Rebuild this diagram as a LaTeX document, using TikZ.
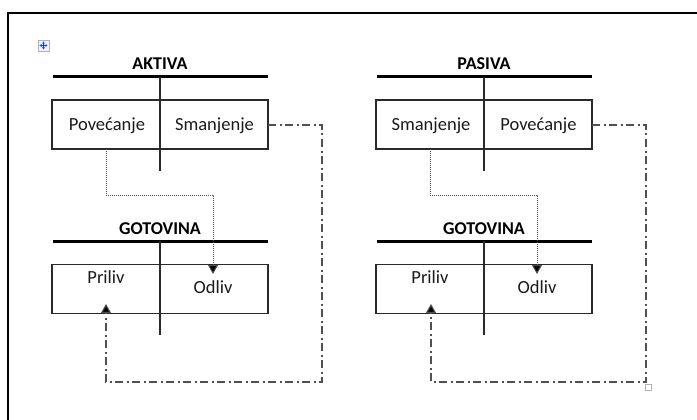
\documentclass[tikz,border=0pt]{standalone}
\usepackage{fontspec}
\setmainfont{Carlito}
\usetikzlibrary{arrows.meta}
\definecolor{txt}{HTML}{1A1A1A}
\definecolor{ln}{HTML}{2A2A2A}
\definecolor{cn}{HTML}{505050}
\tikzset{
  ttl/.style={font=\bfseries\fontsize{18}{20}\selectfont, text=black, inner sep=0pt, anchor=base},
  lbl/.style={font=\fontsize{18.5}{21}\selectfont, text=txt, inner sep=0pt, anchor=base},
  hline/.style={line width=3pt, black},
  vline/.style={line width=1.5pt, ln},
  boxst/.style={draw=ln, line width=1.5pt, minimum width=216pt, minimum height=49pt, inner sep=0pt},
  tipst/.style={-{Triangle[width=10pt,length=9pt,fill=black]}},
  dotc/.style={densely dotted, line width=1pt, cn, tipst},
  dashdotc/.style={line width=1.1pt, cn, dash pattern=on 8pt off 3.5pt on 2pt off 3.5pt, tipst},
  frame/.style={line width=2.5pt, black}
}
\newcommand\taccts[6]{%
  % #1 prefix, #2 title, #3 left label, #4 right label, #5 x of vertical return, #6 x of arrow
  \node[ttl] (#1t) at (160,70) {#2};
  \coordinate (#1h1) at (53,77); \coordinate (#1h2) at (268,77);
  \draw[hline] (#1h1) -- (#1h2);
  \node[boxst] (#1b) at (160,124.5) {};
  \coordinate (#1v1) at (160,77); \coordinate (#1v2) at (160,171);
  \draw[vline] (#1v1) -- (#1v2);
  \node[lbl] (#1p) at (107,131) {#3};
  \node[lbl] (#1s) at (214.5,131) {#4};
  % GOTOVINA
  \node[ttl] (#1g) at (160,234) {GOTOVINA};
  \coordinate (#1gh1) at (53,241); \coordinate (#1gh2) at (268,241);
  \draw[hline] (#1gh1) -- (#1gh2);
  \node[boxst] (#1gb) at (160,289) {};
  \coordinate (#1gv1) at (160,241); \coordinate (#1gv2) at (160,335);
  \draw[vline] (#1gv1) -- (#1gv2);
  \node[lbl] (#1pr) at (106,283) {Priliv};
  \node[lbl] (#1od) at (213,293) {Odliv};
  % connectors
  \coordinate (#1d0) at (106,149);
  \coordinate (#1d1) at (213,195);
  \coordinate (#1d2) at (213,274);
  \draw[dotc] (#1d0) |- (#1d1) -- (#1d2);
  \coordinate (#1e0) at (268,125);
  \coordinate (#1e1) at (#5,382);
  \coordinate (#1e2) at (#6,304);
  \draw[dashdotc] (#1e0) -| (#1e1) -| (#1e2);
}
\begin{document}
\begin{tikzpicture}[x=1pt,y=-1pt]
  \useasboundingbox (0,0) rectangle (697,420);
  \fill[white] (0,0) rectangle (697,420);
  % outer frame
  \coordinate (fl) at (8,420); \coordinate (ftl) at (8,13); \coordinate (fr) at (697,13);
  \draw[frame] (fl) -- (ftl) -- (fr);
  % move handle icon
  \node[draw=gray!60, fill=gray!10, line width=0.8pt, minimum width=11pt, minimum height=11pt, inner sep=0pt] (icon) at (43.5,45.5) {};
  \draw[blue!75!cyan, line width=1pt, {Latex[length=2pt,width=3pt]}-{Latex[length=2pt,width=3pt]}] (icon.center) ++(-4,0) -- ++(8,0);
  \draw[blue!75!cyan, line width=1pt, {Latex[length=2pt,width=3pt]}-{Latex[length=2pt,width=3pt]}] (icon.center) ++(0,-4) -- ++(0,8);
  % left group
  \taccts{L}{AKTIVA}{Povećanje}{Smanjenje}{322}{106}
  % right group
  \begin{scope}[xshift=324pt]
    \taccts{R}{PASIVA}{Smanjenje}{Povećanje}{322}{107}
    \node[draw=gray!60, fill=white, line width=0.8pt, minimum size=6pt, inner sep=0pt] (handle) at (324.5,387) {};
  \end{scope}
\end{tikzpicture}
\end{document}
